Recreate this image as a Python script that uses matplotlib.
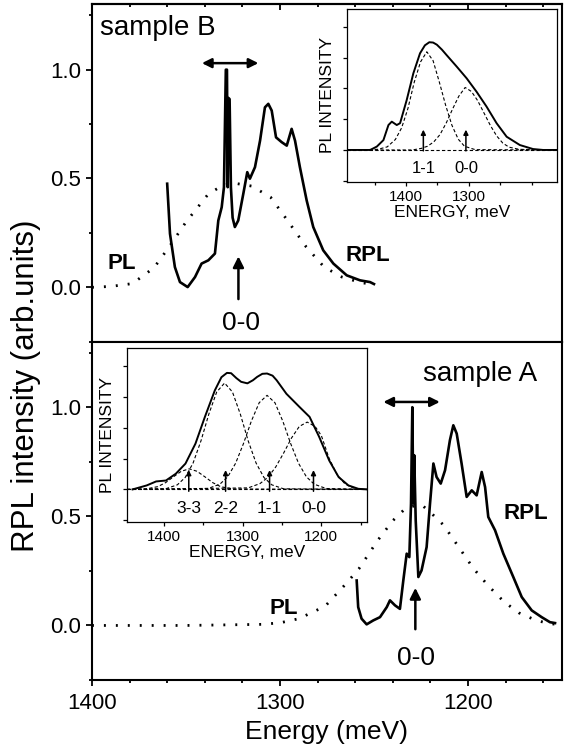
import matplotlib
matplotlib.use("Agg")
import matplotlib.pyplot as plt
from matplotlib.ticker import MultipleLocator, FixedLocator, NullFormatter

plt.rcParams['font.family'] = ['Liberation Sans', 'DejaVu Sans']

# ---- sample B (upper panel) ----
b_rpl_e = [1360, 1358.5, 1355.9, 1353.2, 1349.1, 1345.2, 1341.7, 1338.1, 1334.6, 1332.8,
           1331, 1329.8, 1328.8, 1328.2, 1327.8, 1327.4, 1326.8, 1326.1, 1325.2, 1324,
           1322.2, 1319.5, 1317.4, 1316, 1313.3, 1310.6, 1308, 1306.2, 1304.4, 1302.1,
           1299.1, 1296.4, 1293.8, 1292, 1289.4, 1285.8, 1282.3, 1277, 1271.6, 1264.5,
           1257.4, 1252.1, 1250]
b_rpl_v = [0.476, 0.246, 0.093, 0.024, 0.001, 0.047, 0.109, 0.124, 0.155, 0.307,
           0.368, 0.46, 1.0, 1.0, 0.46, 0.87, 0.865, 0.46, 0.32, 0.277,
           0.307, 0.43, 0.529, 0.499, 0.552, 0.674, 0.827, 0.843, 0.812, 0.689,
           0.667, 0.651, 0.728, 0.674, 0.552, 0.399, 0.277, 0.17, 0.109, 0.055,
           0.032, 0.024, 0.015]
b_pl_e = [1400, 1390, 1378.5, 1367, 1359, 1350, 1338, 1330, 1324, 1315, 1305, 1296,
          1286, 1276.5, 1267, 1257, 1250]
b_pl_v = [0.0, 0.004, 0.017, 0.09, 0.185, 0.30, 0.43, 0.47, 0.478, 0.465, 0.414, 0.307,
          0.185, 0.093, 0.047, 0.022, 0.012]

# ---- sample A (lower panel) ----
a_rpl_e = [1259.2, 1258.4, 1256.6, 1253.9, 1250.4, 1246.8, 1243.2, 1241.5, 1238.8, 1236.2,
           1234.4, 1232.6, 1231.2, 1230.3, 1229.6, 1229.1, 1228.6, 1227.8, 1226.4, 1224.7,
           1222, 1220.2, 1218.4, 1216.7, 1214.5, 1212.2, 1209.6, 1207.8, 1206, 1203.4,
           1200.7, 1198, 1195.4, 1192.7, 1190.9, 1189.2, 1185.6, 1181.2, 1175.9, 1171.4,
           1166.1, 1160.8, 1156.4, 1153.7]
a_rpl_v = [0.206, 0.084, 0.031, 0.005, 0.023, 0.038, 0.084, 0.115, 0.092, 0.076,
           0.206, 0.329, 0.313, 0.558, 1.0, 0.558, 0.78, 0.48, 0.222, 0.252,
           0.359, 0.558, 0.742, 0.68, 0.65, 0.711, 0.849, 0.917, 0.879, 0.742,
           0.589, 0.619, 0.596, 0.703, 0.634, 0.497, 0.436, 0.329, 0.222, 0.13,
           0.069, 0.038, 0.015, 0.011]
a_pl_e = [1400, 1350, 1310, 1300, 1290, 1276, 1265, 1258, 1248, 1240, 1234, 1228,
          1224, 1219, 1213, 1205, 1197, 1189, 1181, 1173, 1165, 1158, 1153]
a_pl_v = [0, 0, 0.005, 0.012, 0.031, 0.088, 0.19, 0.26, 0.39, 0.48, 0.53, 0.55,
          0.548, 0.51, 0.46, 0.36, 0.26, 0.18, 0.11, 0.058, 0.028, 0.01, 0.005]

# ---- inset, sample B ----
ib_tot_e = [1494, 1457, 1446.5, 1436, 1428, 1422.7, 1414.8, 1409.5, 1399, 1388.4, 1377.8,
            1370, 1363, 1357, 1351, 1343, 1335.4, 1319.5, 1303.7, 1287.8, 1272, 1256,
            1240, 1219, 1198, 1182, 1160]
ib_tot_v = [0, 0, 0.11, 0.32, 0.81, 0.92, 0.81, 0.87, 1.62, 2.49, 3.14,
            3.4, 3.5, 3.49, 3.42, 3.26, 3.08, 2.71, 2.33, 1.89, 1.41, 0.87,
            0.43, 0.16, 0.03, 0, 0]
ib_11_e = [1494, 1445, 1430, 1417, 1407, 1397, 1387, 1377, 1367, 1357, 1347, 1337,
           1327, 1317, 1307, 1290, 1160]
ib_11_v = [0, 0.02, 0.1, 0.34, 0.72, 1.35, 2.2, 2.86, 3.19, 2.9, 2.2, 1.45,
           0.8, 0.35, 0.12, 0.01, 0]
ib_00_e = [1494, 1390, 1376, 1366, 1356, 1346, 1336, 1326, 1316, 1306, 1296, 1286,
           1276, 1266, 1256, 1246, 1236, 1220, 1160]
ib_00_v = [0, 0, 0.05, 0.12, 0.26, 0.5, 0.88, 1.33, 1.75, 2.03, 1.9, 1.6,
           1.2, 0.8, 0.46, 0.22, 0.09, 0.02, 0]
ib_arrow_e = [1372.5, 1304.8]
ib_arrow_lbl = ['1-1', '0-0']

# ---- inset, sample A ----
ia_tot_e = [1440, 1422, 1410, 1397.5, 1385, 1372.7, 1360, 1348, 1335.4, 1327, 1320, 1314.7,
            1308, 1302, 1294, 1287, 1281.6, 1275, 1269, 1262, 1256.8, 1244.4, 1227.7,
            1215, 1202.8, 1190, 1178, 1165.6, 1153, 1142]
ia_tot_v = [0, 0.13, 0.26, 0.29, 0.51, 0.84, 1.49, 2.36, 3.22, 3.65, 3.79, 3.78,
            3.62, 3.5, 3.45, 3.55, 3.66, 3.76, 3.77, 3.7, 3.55, 3.11, 2.68,
            2.36, 1.71, 0.94, 0.40, 0.13, 0.02, 0]
ia_33_e = [1447, 1423, 1408, 1398, 1388, 1378, 1368, 1358, 1348, 1338, 1328, 1313, 1142]
ia_33_v = [0, 0.015, 0.09, 0.22, 0.41, 0.59, 0.67, 0.59, 0.41, 0.22, 0.09, 0.015, 0]
ia_22_e = [1447, 1398, 1383, 1373, 1363, 1353, 1343, 1333, 1323, 1313, 1303, 1293,
           1283, 1273, 1263, 1248, 1142]
ia_22_v = [0, 0.02, 0.15, 0.39, 0.86, 1.58, 2.45, 3.17, 3.46, 3.17, 2.45, 1.58,
           0.86, 0.39, 0.15, 0.02, 0]
ia_11_e = [1447, 1344, 1329, 1319, 1309, 1299, 1289, 1279, 1269, 1259, 1249, 1239,
           1229, 1219, 1209, 1194, 1142]
ia_11_v = [0, 0.03, 0.17, 0.41, 0.85, 1.49, 2.22, 2.82, 3.06, 2.82, 2.22, 1.49,
           0.85, 0.41, 0.17, 0.03, 0]
ia_00_e = [1447, 1293, 1278, 1268, 1258, 1248, 1238, 1228, 1218, 1208, 1200, 1190,
           1180, 1170, 1160, 1150, 1142]
ia_00_v = [0, 0.05, 0.19, 0.39, 0.73, 1.18, 1.67, 2.05, 2.19, 2.05, 1.75, 1.0,
           0.48, 0.18, 0.05, 0.01, 0]
ia_arrow_e = [1368.5, 1321.7, 1265.8, 1210]
ia_arrow_lbl = ['3-3', '2-2', '1-1', '0-0']

main_xticks = [1400, 1300, 1200]
main_yticks = [0.0, 0.5, 1.0]

fig = plt.figure(figsize=(5.66, 7.56), dpi=100)
ax_b = fig.add_axes([0.1625, 0.548, 0.8304, 0.4462])
ax_a = fig.add_axes([0.1625, 0.1005, 0.8304, 0.4475])


def style_main(ax):
    ax.set_xlim(1400, 1150)
    ax.set_ylim(-0.25, 1.3)
    ax.xaxis.set_major_locator(FixedLocator(main_xticks))
    ax.xaxis.set_minor_locator(MultipleLocator(20))
    ax.yaxis.set_major_locator(FixedLocator(main_yticks))
    ax.yaxis.set_minor_locator(MultipleLocator(0.25))
    ax.yaxis.set_major_formatter(plt.FuncFormatter(lambda v, p: f"{v:.1f}"))
    for s in ax.spines.values():
        s.set_linewidth(1.5)
    ax.tick_params(axis='y', which='both', direction='out', left=True, right=False,
                   labelsize=16, width=1.3)
    ax.tick_params(axis='y', which='major', length=4.5)
    ax.tick_params(axis='y', which='minor', length=2.5)


for ax in (ax_b, ax_a):
    style_main(ax)

# upper panel: ticks down from the divider and inward from the top
ax_b.tick_params(axis='x', which='both', direction='out', bottom=True, top=False,
                 labelbottom=False, width=1.3)
ax_b.tick_params(axis='x', which='major', length=4.5)
ax_b.tick_params(axis='x', which='minor', length=2.5)
sec = ax_b.secondary_xaxis('top')
sec.xaxis.set_major_locator(FixedLocator(main_xticks))
sec.xaxis.set_minor_locator(MultipleLocator(20))
sec.xaxis.set_major_formatter(NullFormatter())
sec.tick_params(axis='x', which='both', direction='in', width=1.3)
sec.tick_params(axis='x', which='major', length=4.5)
sec.tick_params(axis='x', which='minor', length=2.5)
sec.spines['top'].set_linewidth(1.5)

ax_a.tick_params(axis='x', which='both', direction='out', bottom=True, top=False,
                 labelsize=16, width=1.3, pad=5)
ax_a.tick_params(axis='x', which='major', length=4.5)
ax_a.tick_params(axis='x', which='minor', length=2.5)

dots = (0, (0.7, 3.6))

# upper panel curves
ax_b.plot(b_pl_e, b_pl_v, color='k', lw=2.0, linestyle=dots)
ax_b.plot(b_rpl_e, b_rpl_v, color='k', lw=1.9, solid_joinstyle='round')
ax_b.text(1395.5, 1.19, 'sample B', fontsize=20, ha='left', va='center')
ax_b.text(1384, 0.11, 'PL', fontsize=16, fontweight='bold', ha='center', va='center')
ax_b.text(1253.5, 0.147, 'RPL', fontsize=16, fontweight='bold', ha='center', va='center')
ax_b.annotate('', xy=(1322.1, 0.155), xytext=(1322.1, -0.067),
              arrowprops=dict(arrowstyle='-|>', lw=1.8, color='k', mutation_scale=16))
ax_b.text(1320.5, -0.165, '0-0', fontsize=19, ha='center', va='center')
ax_b.annotate('', xy=(1343, 1.03), xytext=(1310, 1.03),
              arrowprops=dict(arrowstyle='<|-|>', lw=1.8, color='k', mutation_scale=14))

# lower panel curves
ax_a.plot(a_pl_e, a_pl_v, color='k', lw=2.0, linestyle=dots)
ax_a.plot(a_rpl_e, a_rpl_v, color='k', lw=1.9, solid_joinstyle='round')
ax_a.text(1193.6, 1.15, 'sample A', fontsize=20, ha='center', va='center')
ax_a.text(1298, 0.078, 'PL', fontsize=16, fontweight='bold', ha='center', va='center')
ax_a.text(1169, 0.513, 'RPL', fontsize=16, fontweight='bold', ha='center', va='center')
ax_a.annotate('', xy=(1228, 0.185), xytext=(1228, -0.03),
              arrowprops=dict(arrowstyle='-|>', lw=1.8, color='k', mutation_scale=16))
ax_a.text(1227.5, -0.147, '0-0', fontsize=19, ha='center', va='center')
ax_a.annotate('', xy=(1246.5, 1.024), xytext=(1213.5, 1.024),
              arrowprops=dict(arrowstyle='<|-|>', lw=1.8, color='k', mutation_scale=14))

ax_a.set_xlabel('Energy (meV)', fontsize=19, labelpad=4)
fig.text(0.046, 0.49, 'RPL intensity (arb.units)', fontsize=22.5, rotation=90,
         ha='center', va='center')


def style_inset(ax, xlim, ylim, majors, minors):
    ax.set_xlim(*xlim)
    ax.set_ylim(*ylim)
    ax.xaxis.set_major_locator(FixedLocator(majors))
    ax.xaxis.set_minor_locator(FixedLocator(minors))
    ax.yaxis.set_major_locator(FixedLocator([-1, 0, 1, 2, 3, 4]))
    ax.yaxis.set_major_formatter(NullFormatter())
    for s in ax.spines.values():
        s.set_linewidth(0.9)
    ax.tick_params(axis='both', which='both', direction='out', width=0.9,
                   top=False, right=False)
    ax.tick_params(axis='both', which='major', length=3)
    ax.tick_params(axis='both', which='minor', length=2)
    ax.tick_params(axis='x', labelsize=11, pad=3)
    ax.set_xlabel('ENERGY, meV', fontsize=12.5, labelpad=1)
    ax.set_ylabel('PL INTENSITY', fontsize=12.5, labelpad=2)
    ax.axhline(0, color='k', lw=0.8, ls=(0, (3, 2)))


# inset B
in_b = fig.add_axes([0.613, 0.7597, 0.371, 0.2284])
style_inset(in_b, (1494, 1160), (-1.03, 4.58), [1400, 1300], [1450, 1350, 1250, 1200])
in_b.plot(ib_11_e, ib_11_v, color='k', lw=0.8, ls=(0, (3, 2)))
in_b.plot(ib_00_e, ib_00_v, color='k', lw=0.8, ls=(0, (3, 2)))
in_b.plot(ib_tot_e, ib_tot_v, color='k', lw=1.4)
for e, lbl in zip(ib_arrow_e, ib_arrow_lbl):
    in_b.annotate('', xy=(e, 0.75), xytext=(e, -0.12),
                  arrowprops=dict(arrowstyle='-|>', lw=1.1, color='k', mutation_scale=7))
    in_b.text(e, -0.6, lbl, fontsize=12, ha='center', va='center')

# inset A
in_a = fig.add_axes([0.2244, 0.3099, 0.424, 0.2298])
style_inset(in_a, (1447, 1142), (-1.05, 4.6), [1400, 1300, 1200], [1350, 1250, 1150])
for ce, cv in ((ia_33_e, ia_33_v), (ia_22_e, ia_22_v), (ia_11_e, ia_11_v), (ia_00_e, ia_00_v)):
    in_a.plot(ce, cv, color='k', lw=0.8, ls=(0, (3, 2)))
in_a.plot(ia_tot_e, ia_tot_v, color='k', lw=1.4)
for e, lbl in zip(ia_arrow_e, ia_arrow_lbl):
    in_a.annotate('', xy=(e, 0.72), xytext=(e, -0.15),
                  arrowprops=dict(arrowstyle='-|>', lw=1.1, color='k', mutation_scale=7))
    in_a.text(e, -0.62, lbl, fontsize=12.5, ha='center', va='center')

fig.savefig('out.png', dpi=100)
